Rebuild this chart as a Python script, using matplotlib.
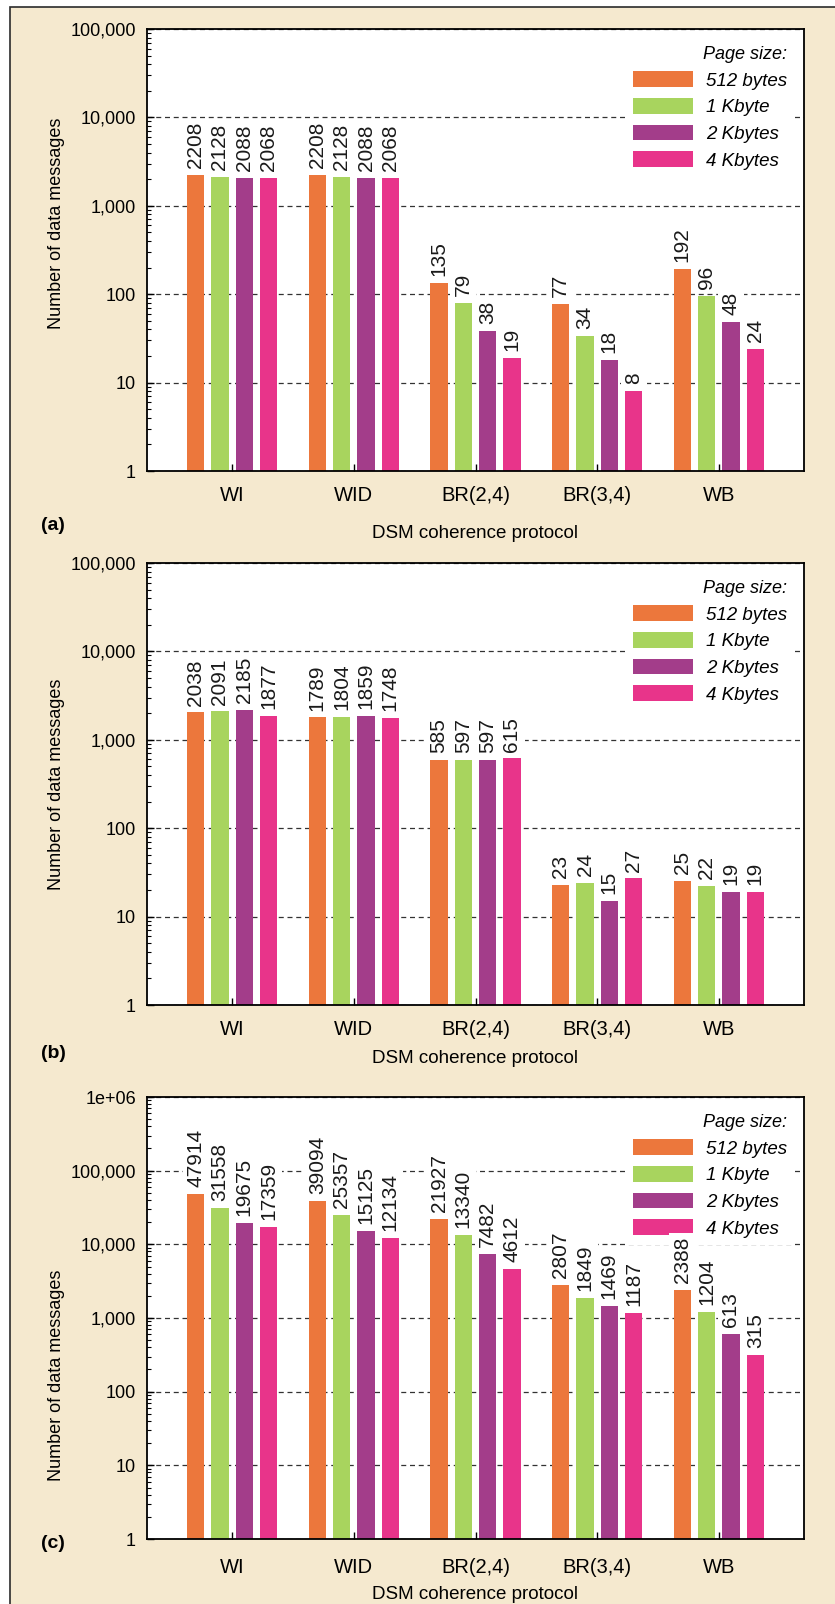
import numpy as np
import matplotlib.pyplot as plt
from matplotlib.patches import Patch, Rectangle
from matplotlib.ticker import FixedLocator, FixedFormatter, LogLocator, NullFormatter

protocols = ['WI', 'WID', 'BR(2,4)', 'BR(3,4)', 'WB']
page_sizes = ['512 bytes', '1 Kbyte', '2 Kbytes', '4 Kbytes']
colors = ['#EC773C', '#A8D45E', '#A33D8A', '#E8348A']

# rows = protocols, columns = page sizes
msgs_a = [[2208, 2128, 2088, 2068],
          [2208, 2128, 2088, 2068],
          [135, 79, 38, 19],
          [77, 34, 18, 8],
          [192, 96, 48, 24]]
msgs_b = [[2038, 2091, 2185, 1877],
          [1789, 1804, 1859, 1748],
          [585, 597, 597, 615],
          [23, 24, 15, 27],
          [25, 22, 19, 19]]
msgs_c = [[47914, 31558, 19675, 17359],
          [39094, 25357, 15125, 12134],
          [21927, 13340, 7482, 4612],
          [2807, 1849, 1469, 1187],
          [2388, 1204, 613, 315]]

yticks_ab = [1, 10, 100, 1000, 10000, 100000]
ytl_ab = ['1', '10', '100', '1,000', '10,000', '100,000']
yticks_c = [1, 10, 100, 1000, 10000, 100000, 1000000]
ytl_c = ['1', '10', '100', '1,000', '10,000', '100,000', '1e+06']

plt.rcParams['font.family'] = ['Liberation Sans', 'DejaVu Sans']

W, H = 835, 1604
fig = plt.figure(figsize=(W / 100, H / 100), dpi=100)
fig.patch.set_facecolor('white')
fig.add_artist(Rectangle((10 / W, -0.01), 1, 1 - 7 / H + 0.01, transform=fig.transFigure,
                         facecolor='#F5E9CF', edgecolor='#2b2b2b', lw=1.2, zorder=-10))


def panel(top_px, data, tag, yticks, ytl, ylab_y, xlab_pad, tick_pad, tag_y):
    ax = fig.add_axes([147 / W, 1 - (top_px + 442) / H, 657 / W, 442 / H])
    ax.set_yscale('log')
    x = np.arange(1, len(protocols) + 1)
    vals = np.array(data)
    offs = [-0.3, -0.1, 0.1, 0.3]
    for j in range(len(page_sizes)):
        bars = ax.bar(x + offs[j], vals[:, j], width=0.14, color=colors[j], zorder=2)
        for b, v in zip(bars, vals[:, j]):
            ax.annotate(str(v), (b.get_x() + b.get_width() / 2, v), xytext=(0, 5),
                        textcoords='offset points', rotation=90, ha='center', va='bottom',
                        fontsize=15, color='#1a1a1a', zorder=3,
                        bbox=dict(facecolor='white', edgecolor='none', pad=2.5))
    ax.set_xlim(0.3, 5.7)
    ax.set_ylim(yticks[0], yticks[-1])
    ax.yaxis.set_major_locator(FixedLocator(yticks))
    ax.yaxis.set_major_formatter(FixedFormatter(ytl))
    ax.yaxis.set_minor_locator(LogLocator(subs=np.arange(2, 10)))
    ax.yaxis.set_minor_formatter(NullFormatter())
    ax.set_xticks(x)
    ax.set_xticklabels(protocols, fontsize=14.5)
    ax.tick_params(axis='y', which='major', direction='in', length=5, width=1, labelsize=13, pad=8)
    ax.tick_params(axis='y', which='minor', direction='in', length=3, width=0.8)
    ax.tick_params(axis='x', direction='in', length=5, width=1, pad=tick_pad)
    for s in ax.spines.values():
        s.set_linewidth(1.3)
    ax.yaxis.grid(True, which='major', linestyle=(0, (4, 3)), color='#333333', lw=0.9, zorder=0)
    ax.set_axisbelow(True)
    ax.set_ylabel('Number of data messages', fontsize=13)
    ax.yaxis.set_label_coords(-0.125, ylab_y)
    ax.set_xlabel('DSM coherence protocol', fontsize=13.5, labelpad=xlab_pad)
    handles = [Patch(facecolor=c, edgecolor='none') for c in colors]
    leg = ax.legend(handles, page_sizes, loc='upper right', title='Page size:', alignment='right',
                    prop={'style': 'italic', 'size': 13.5},
                    title_fontproperties={'style': 'italic', 'size': 13},
                    frameon=True, facecolor='white', edgecolor='none', framealpha=1, fancybox=False,
                    handlelength=3.2, handleheight=0.9, handletextpad=0.7, labelspacing=0.45,
                    borderpad=0.4, borderaxespad=0.5)
    leg.set_zorder(2.5)
    fig.text(41 / W, 1 - tag_y / H, tag, fontsize=14, fontweight='bold', ha='left', va='center')
    return ax


panel(29, msgs_a, '(a)', yticks_ab, ytl_ab, 0.56, 14, 11, 526)
panel(563, msgs_b, '(b)', yticks_ab, ytl_ab, 0.5, 8, 11, 1053)
panel(1097, msgs_c, '(c)', yticks_c, ytl_c, 0.37, 6, 14, 1544)

fig.savefig('out.png', dpi=100, facecolor=fig.get_facecolor())
